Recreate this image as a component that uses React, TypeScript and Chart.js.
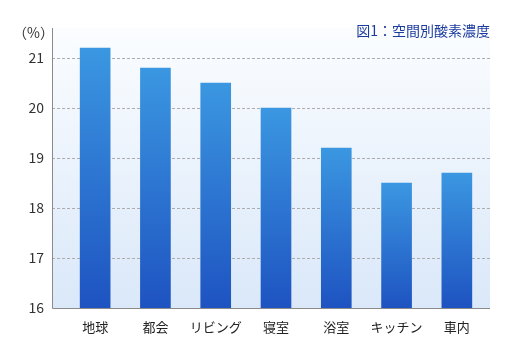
import React, { useEffect, useRef } from "react";
import { Chart, registerables } from "chart.js";

Chart.register(...registerables);

const categories = ["地球", "都会", "リビング", "寝室", "浴室", "キッチン", "車内"];
const oxygenValues = [21.2, 20.8, 20.5, 20.0, 19.2, 18.5, 18.7];
const yTicks = [16, 17, 18, 19, 20, 21];
const yMin = 16;
const yMax = 21.6;
const titleText = "図1：空間別酸素濃度";
const unitText = "（%）";

const FONT = "'Noto Sans CJK JP', 'Noto Sans', sans-serif";
const PLOT_LEFT = 44;
const PLOT_RIGHT = 482;

const backgroundPlugin = {
  id: "bgPlugin",
  beforeDraw(chart: any) {
    const { ctx, chartArea } = chart;
    const yScale = chart.scales.y;
    ctx.save();
    const g = ctx.createLinearGradient(0, chartArea.top, 0, chartArea.bottom);
    g.addColorStop(0, "#fbfdff");
    g.addColorStop(1, "#dae8f9");
    ctx.fillStyle = g;
    ctx.fillRect(PLOT_LEFT, chartArea.top, PLOT_RIGHT - PLOT_LEFT, chartArea.bottom - chartArea.top);
    ctx.strokeStyle = "#adadad";
    ctx.lineWidth = 1;
    ctx.setLineDash([3, 2]);
    yTicks.forEach((t) => {
      if (t === yMin) return;
      const y = Math.round(yScale.getPixelForValue(t)) + 0.5;
      ctx.beginPath();
      ctx.moveTo(PLOT_LEFT, y);
      ctx.lineTo(PLOT_RIGHT, y);
      ctx.stroke();
    });
    ctx.restore();
  },
  afterDatasetsDraw(chart: any) {
    const { ctx, chartArea } = chart;
    ctx.save();
    ctx.strokeStyle = "#8a8a8a";
    ctx.lineWidth = 1;
    ctx.beginPath();
    ctx.moveTo(PLOT_LEFT + 0.5, chartArea.top);
    ctx.lineTo(PLOT_LEFT + 0.5, Math.round(chartArea.bottom) + 0.5);
    ctx.lineTo(PLOT_RIGHT, Math.round(chartArea.bottom) + 0.5);
    ctx.stroke();
    ctx.fillStyle = "#333";
    ctx.font = `14px ${FONT}`;
    ctx.textAlign = "right";
    ctx.textBaseline = "middle";
    ctx.fillText(unitText, 46, 25);
    ctx.fillStyle = "#1c3b9f";
    ctx.font = `14px ${FONT}`;
    ctx.textAlign = "right";
    ctx.fillText(titleText, PLOT_RIGHT, 23);
    ctx.restore();
  },
};

export default function App() {
  const canvasRef = useRef<HTMLCanvasElement | null>(null);

  useEffect(() => {
    if (!canvasRef.current) return;
    const chart = new Chart(canvasRef.current, {
      type: "bar",
      data: {
        labels: categories,
        datasets: [
          {
            data: oxygenValues,
            backgroundColor: (context: any) => {
              const ch = context.chart;
              const { chartArea } = ch;
              if (!chartArea) return "#2b74d2";
              const v = context.raw as number;
              const top = ch.scales.y.getPixelForValue(v);
              const bottom = chartArea.bottom;
              const g = ch.ctx.createLinearGradient(0, top, 0, bottom);
              g.addColorStop(0, "#3b97e1");
              g.addColorStop(1, "#1e53c1");
              return g;
            },
            borderWidth: 0,
            barThickness: 30,
          },
        ],
      },
      options: {
        animation: false,
        responsive: false,
        maintainAspectRatio: false,
        layout: { padding: { left: 0, right: 33, top: 20, bottom: 0 } },
        plugins: {
          legend: { display: false },
          tooltip: { enabled: false },
          title: { display: false },
        },
        scales: {
          x: {
            offset: true,
            grid: { display: false, drawTicks: false },
            border: { display: false },
            afterFit: (scale: any) => {
              scale.height = 39;
              scale.paddingLeft = 0;
              scale.paddingRight = 0;
            },
            ticks: {
              color: "#222",
              font: { family: FONT, size: 13 },
              padding: 11,
            },
          },
          y: {
            min: yMin,
            max: yMax,
            afterBuildTicks: (scale: any) => {
              scale.ticks = yTicks.map((v) => ({ value: v }));
            },
            afterFit: (scale: any) => {
              scale.width = 57;
              scale.paddingTop = 0;
              scale.paddingBottom = 0;
            },
            grid: { display: false, drawTicks: false },
            border: { display: false },
            ticks: {
              color: "#333",
              font: { family: FONT, size: 14 },
              padding: 21,
            },
          },
        },
      },
      plugins: [backgroundPlugin],
    });
    return () => chart.destroy();
  }, []);

  return (
    <canvas
      ref={canvasRef}
      width={512}
      height={339}
      style={{ display: "block", width: 512, height: 339 }}
    />
  );
}
